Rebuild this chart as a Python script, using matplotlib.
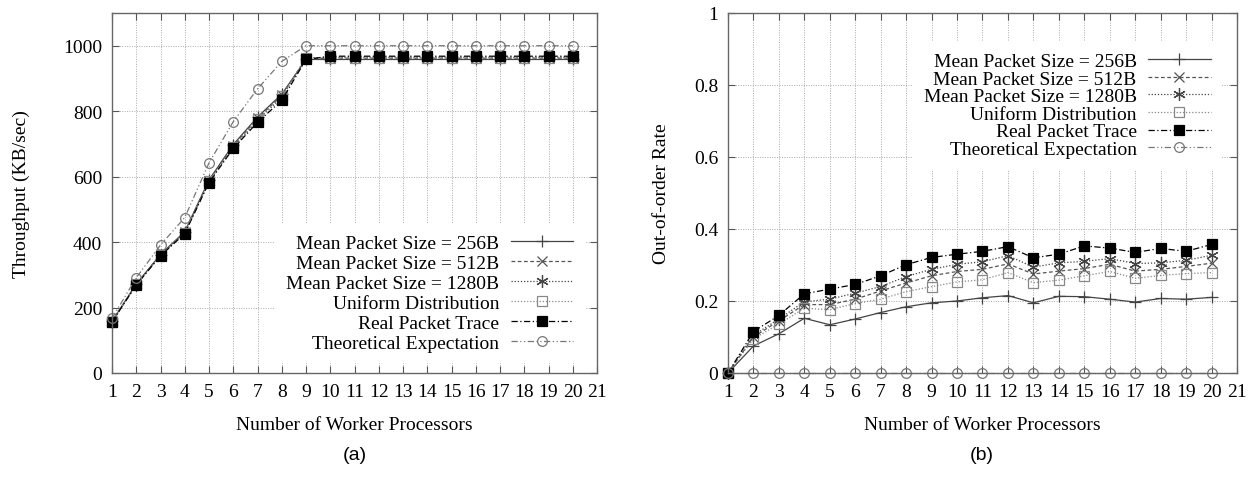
import numpy as np
import matplotlib
matplotlib.use("Agg")
import matplotlib.pyplot as plt

plt.rcParams['font.family'] = ['Liberation Serif', 'DejaVu Serif']

workers = list(range(1, 21))
labels = ['Mean Packet Size = 256B', 'Mean Packet Size = 512B', 'Mean Packet Size = 1280B',
          'Uniform Distribution', 'Real Packet Trace', 'Theoretical Expectation']

# throughput (KB/sec)
thr_256 = [158, 272, 362, 432, 590, 698, 782, 852, 958, 958, 958, 958, 958, 958, 958, 958, 958, 958, 958, 958]
thr_512 = [157, 271, 361, 430, 588, 694, 778, 848, 960, 962, 962, 962, 962, 962, 962, 962, 962, 962, 962, 962]
thr_1280 = [156, 270, 360, 428, 585, 690, 772, 842, 962, 965, 965, 965, 965, 965, 965, 965, 965, 965, 965, 965]
thr_unif = [157, 271, 360, 429, 586, 692, 775, 845, 964, 963, 963, 963, 963, 963, 963, 963, 963, 963, 963, 963]
thr_real = [156, 269, 358, 426, 582, 686, 766, 833, 958, 968, 968, 968, 968, 968, 968, 968, 968, 968, 968, 968]
thr_theo = [167, 291, 391, 475, 642, 768, 868, 952, 1000, 1000, 1000, 1000, 1000, 1000, 1000, 1000, 1000, 1000, 1000, 1000]

# out-of-order rate
ooo_256 = [0, 0.075, 0.109, 0.152, 0.134, 0.150, 0.168, 0.184, 0.195, 0.200, 0.209, 0.215, 0.195, 0.213, 0.212, 0.205, 0.197, 0.207, 0.205, 0.210]
ooo_512 = [0, 0.100, 0.145, 0.190, 0.190, 0.205, 0.228, 0.250, 0.270, 0.282, 0.288, 0.303, 0.275, 0.283, 0.290, 0.302, 0.283, 0.288, 0.296, 0.305]
ooo_1280 = [0, 0.105, 0.150, 0.198, 0.205, 0.222, 0.240, 0.268, 0.288, 0.302, 0.309, 0.326, 0.294, 0.306, 0.310, 0.318, 0.304, 0.306, 0.313, 0.327]
ooo_unif = [0, 0.095, 0.136, 0.180, 0.176, 0.193, 0.205, 0.226, 0.240, 0.253, 0.259, 0.279, 0.251, 0.258, 0.270, 0.282, 0.263, 0.271, 0.276, 0.279]
ooo_real = [0, 0.115, 0.160, 0.220, 0.233, 0.246, 0.270, 0.301, 0.321, 0.330, 0.338, 0.351, 0.320, 0.330, 0.353, 0.347, 0.335, 0.346, 0.338, 0.357]
ooo_theo = [0] * 20

styles = [
    dict(color='#444444', linestyle='-', marker='+', ms=9, mfc='none'),
    dict(color='#555555', linestyle=(0, (3, 2)), marker='x', ms=7, mfc='none'),
    dict(color='#444444', linestyle=(0, (1, 1.5)), marker=(6, 2, 0), ms=9, mfc='none'),
    dict(color='#888888', linestyle=(0, (1, 1.5)), marker='s', ms=7, mfc='none'),
    dict(color='#000000', linestyle=(0, (5, 2, 1, 2)), marker='s', ms=7, mfc='black'),
    dict(color='#777777', linestyle=(0, (5, 2, 1, 2, 1, 2)), marker='o', ms=7, mfc='none'),
]

fig = plt.figure(figsize=(12.6, 4.81), dpi=100)
ax1 = fig.add_axes([112 / 1260, 107 / 481, 485 / 1260, 360 / 481])
ax2 = fig.add_axes([728 / 1260, 107 / 481, 509 / 1260, 360 / 481])


def setup(ax):
    ax.set_xlim(1, 21)
    ax.set_xticks(range(1, 22))
    ax.grid(True, color='#aaaaaa', linestyle=(0, (1, 1.5)), linewidth=0.7)
    ax.tick_params(direction='in', top=True, right=True, length=5, labelsize=14,
                   color='#555555', pad=7)
    for s in ax.spines.values():
        s.set_color('#666666')
        s.set_linewidth(1.0)
    ax.set_xlabel('Number of Worker Processors', fontsize=14, labelpad=12)


series_a = [thr_256, thr_512, thr_1280, thr_unif, thr_real, thr_theo]
for vals, lab, st in zip(series_a, labels, styles):
    ax1.plot(workers, vals, label=lab, linewidth=0.9, markeredgewidth=0.9, clip_on=False, **st)
setup(ax1)
ax1.set_ylim(0, 1100)
ax1.set_yticks(range(0, 1001, 200))
ax1.set_ylabel('Throughput (KB/sec)', fontsize=14, labelpad=24)
leg1 = ax1.legend(loc='lower right', bbox_to_anchor=(0.995, 0.0), markerfirst=False,
                  fontsize=14, labelspacing=0.12, handlelength=3.2, handletextpad=0.6,
                  borderpad=0.6, fancybox=False, framealpha=1, edgecolor='none')

series_b = [ooo_256, ooo_512, ooo_1280, ooo_unif, ooo_real, ooo_theo]
for vals, lab, st in zip(series_b, labels, styles):
    ax2.plot(workers, vals, label=lab, linewidth=0.9, markeredgewidth=0.9, clip_on=False, **st)
setup(ax2)
ax2.set_ylim(0, 1)
ax2.set_yticks([0, 0.2, 0.4, 0.6, 0.8, 1])
ax2.set_yticklabels(['0', '0.2', '0.4', '0.6', '0.8', '1'])
ax2.set_ylabel('Out-of-order Rate', fontsize=14, labelpad=17)
leg2 = ax2.legend(loc='upper right', bbox_to_anchor=(0.99, 0.95), markerfirst=False,
                  fontsize=14, labelspacing=0.0, handlelength=3.2, handletextpad=0.6,
                  borderpad=0.6, fancybox=False, framealpha=1, edgecolor='none')

fig.text(355 / 1260, 1 - 456 / 481, '(a)', ha='center', va='center', fontsize=14,
         family=['Liberation Sans', 'DejaVu Sans'])
fig.text(982 / 1260, 1 - 456 / 481, '(b)', ha='center', va='center', fontsize=14,
         family=['Liberation Sans', 'DejaVu Sans'])

fig.savefig('out.png', dpi=100)
